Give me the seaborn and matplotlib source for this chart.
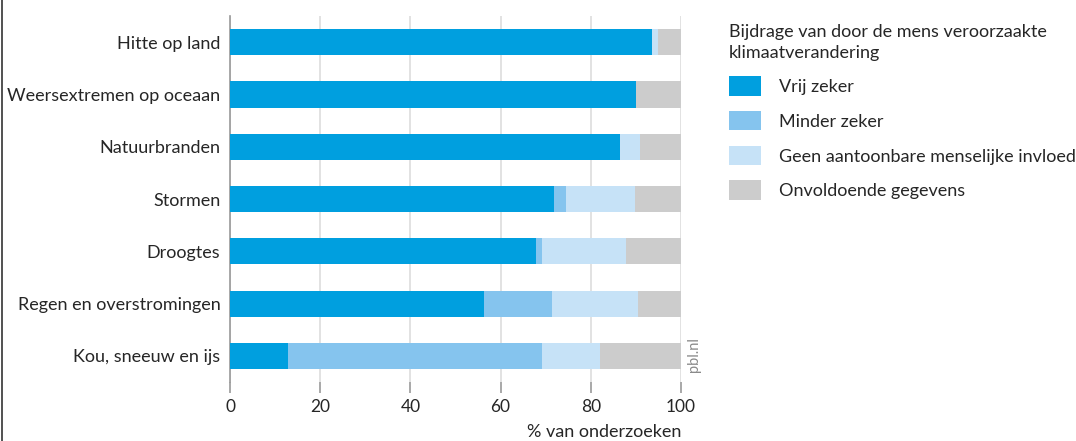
import pandas as pd
import numpy as np
import matplotlib.pyplot as plt
import matplotlib.patches as mpatches
import matplotlib.lines as mlines
import seaborn as sns

# data (% of studies)
categories = ["Hitte op land", "Weersextremen op oceaan", "Natuurbranden", "Stormen",
              "Droogtes", "Regen en overstromingen", "Kou, sneeuw en ijs"]
vrij_zeker = [93.5, 90.1, 86.4, 71.9, 67.8, 56.4, 12.8]
minder_zeker = [0.0, 0.0, 0.0, 2.5, 1.3, 15.1, 56.4]
geen_invloed = [1.3, 0.0, 4.6, 15.5, 18.6, 19.0, 12.9]
onvoldoende = [5.2, 9.9, 9.0, 10.1, 12.3, 9.5, 17.9]

series_names = ["Vrij zeker", "Minder zeker", "Geen aantoonbare menselijke invloed",
                "Onvoldoende gegevens"]
colors = ["#009fdf", "#85c4ee", "#c6e2f7", "#cccccc"]

df = pd.DataFrame({"cat": categories, series_names[0]: vrij_zeker,
                   series_names[1]: minder_zeker, series_names[2]: geen_invloed,
                   series_names[3]: onvoldoende})
cum = df[series_names].cumsum(axis=1)
cum["cat"] = df["cat"]

sns.set_style("white")
plt.rcParams['font.family'] = ['Lato', 'DejaVu Sans']

fig = plt.figure(figsize=(10.76, 4.41), dpi=100)
ax = fig.add_axes([230 / 1076, 1 - 382 / 441, 451 / 1076, 366 / 441])

# stacked bars: draw cumulative totals from the back to the front
for name, col in reversed(list(zip(series_names, colors))):
    sns.barplot(data=cum, x=name, y="cat", orient="h", color=col, width=0.5,
                saturation=1, ax=ax, zorder=3, linewidth=0)

ax.set_xlim(0, 100)
ax.set_ylim(6.5, -0.5)
ax.set_xticks(np.arange(0, 101, 20))
ax.grid(axis="x", color="#dddddd", linewidth=1.2, zorder=0)
ax.grid(axis="y", visible=False)
for s in ["top", "right", "bottom"]:
    ax.spines[s].set_visible(False)
ax.spines["left"].set_color("#999999")
ax.spines["left"].set_linewidth(1.2)
ax.tick_params(axis="x", length=8, color="#999999", width=1.2, labelsize=12.5,
               pad=4, bottom=True)
ax.tick_params(axis="y", length=0, labelsize=13, pad=7)
ax.set_ylabel("")
ax.set_xlabel("")
fig.text(681 / 1076, 1 / 441, "% van onderzoeken", fontsize=13, ha="right", va="bottom")

fig.text(694 / 1076, 1 - 355 / 441, "pbl.nl", rotation=90, color="#8a8a8a",
         fontsize=10.5, ha="center", va="center")

handles = [mpatches.Patch(facecolor=c, edgecolor="none", label=n)
           for n, c in zip(series_names, colors)]
leg = fig.legend(handles=handles, loc="upper left", bbox_to_anchor=(722 / 1076, 1 - 17 / 441),
                 title="Bijdrage van door de mens veroorzaakte\nklimaatverandering",
                 frameon=False, fontsize=13, title_fontsize=13, alignment="left",
                 handlelength=1.75, handleheight=1.3, handletextpad=1.0,
                 labelspacing=0.84, borderaxespad=0)
leg.get_title().set_linespacing(1.35)

fig.add_artist(mlines.Line2D([1.5 / 1076, 1.5 / 1076], [0, 1], color="#333333", linewidth=1.2))

fig.savefig("out.png", dpi=100)
